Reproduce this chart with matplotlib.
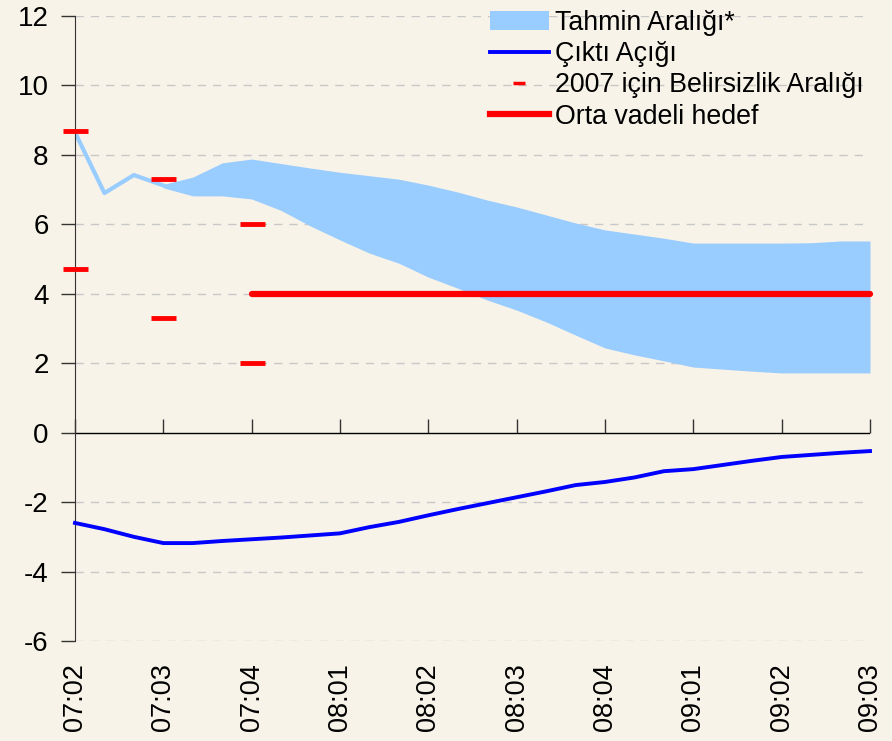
import numpy as np
import matplotlib
matplotlib.use("Agg")
import matplotlib.pyplot as plt
from matplotlib.patches import Patch
from matplotlib.lines import Line2D

plt.rcParams['font.family'] = ['Liberation Sans', 'DejaVu Sans']
plt.rcParams['axes.unicode_minus'] = False

# monthly positions, quarterly tick labels
quarter_labels = ["07:02", "07:03", "07:04", "08:01", "08:02",
                  "08:03", "08:04", "09:01", "09:02", "09:03"]

# realised inflation before forecast band (months 0..3)
hist_infl = [8.65, 6.9, 7.42, 7.12]

# forecast band, months 3..27
band_upper = [7.15, 7.36, 7.77, 7.88, 7.75, 7.62, 7.5, 7.4, 7.3, 7.13,
              6.93, 6.7, 6.5, 6.27, 6.04, 5.84, 5.72, 5.6, 5.46, 5.46,
              5.46, 5.46, 5.47, 5.52, 5.52]
band_lower = [7.05, 6.82, 6.82, 6.73, 6.4, 5.95, 5.55, 5.17, 4.88, 4.48,
              4.16, 3.82, 3.53, 3.19, 2.81, 2.44, 2.24, 2.07, 1.89, 1.83,
              1.77, 1.72, 1.72, 1.72, 1.72]

# output gap, months 0..27
output_gap = [-2.6, -2.78, -3.0, -3.18, -3.18, -3.12, -3.07, -3.02, -2.96, -2.9,
              -2.72, -2.57, -2.38, -2.2, -2.03, -1.86, -1.69, -1.51, -1.42, -1.29,
              -1.11, -1.05, -0.93, -0.81, -0.7, -0.64, -0.58, -0.53]

# 2007 uncertainty range (months 0, 3, 6)
unc_months = [0, 3, 6]
unc_upper = [8.7, 7.3, 6.0]
unc_lower = [4.7, 3.3, 2.0]

# medium term target
target_value = 4.0
target_start = 6

bg = '#F8F3E8'
fig = plt.figure(figsize=(8.92, 7.41), dpi=100, facecolor=bg)
ax = fig.add_axes([75/892, 100/741, 795/892, 625/741], facecolor=bg)

n = len(output_gap)
months = np.arange(n)
band_x = months[3:]

ax.fill_between(band_x, band_lower, band_upper, color='#99CCFF', lw=0, zorder=2)
ax.plot(months[:4], hist_infl, color='#99CCFF', lw=3, zorder=2)
ax.plot(months, output_gap, color='#0000FF', lw=2.8, zorder=3, clip_on=False)
ax.plot(months[target_start:], [target_value]*(n-target_start), color='#FF0000',
        lw=4.5, solid_capstyle='round', zorder=4, clip_on=False)
ax.plot(unc_months, unc_upper, ls='none', marker='_', ms=18, mew=3.5, color='#FF0000',
        zorder=5, clip_on=False)
ax.plot(unc_months, unc_lower, ls='none', marker='_', ms=18, mew=3.5, color='#FF0000',
        zorder=5, clip_on=False)

ax.set_xlim(0, n-1)
ax.set_ylim(-6, 12)
ax.set_yticks(np.arange(-6, 13, 2))
for y in np.arange(-6, 13, 2):
    if y != 0:
        ax.plot([0, n-1.1], [y, y], color='#C8C8C8', lw=1, ls=(0, (6, 5)), zorder=1)

# zero line acting as x axis
ax.axhline(0, color='black', lw=1, zorder=1.5)

for s in ['top', 'right', 'bottom']:
    ax.spines[s].set_visible(False)
ax.spines['left'].set_color('#333333')
ax.tick_params(axis='y', direction='out', length=10, width=1, pad=9, labelsize=20, color='#333333')

# labels at bottom, ticks on the zero line
ax.set_xticks(months[::3])
ax.set_xticklabels(quarter_labels, rotation=90, fontsize=19.5)
ax.tick_params(axis='x', length=0, pad=16)
sec = ax.secondary_xaxis(1/3)
sec.set_xticks(months[::3])
sec.tick_params(axis='x', direction='in', length=10, width=1, color='#333333',
                labelbottom=False, labeltop=False)
sec.spines['bottom'].set_visible(False)
sec.spines['top'].set_visible(False)
sec.set_xticklabels([])

handles = [Patch(facecolor='#99CCFF', edgecolor='none'),
           Line2D([], [], color='#0000FF', lw=2.8),
           Line2D([], [], ls='none', marker='_', ms=9, mew=2.5, color='#FF0000'),
           Line2D([], [], color='#FF0000', lw=4.5)]
labels = ["Tahmin Aralığı*", "Çıktı Açığı", "2007 için Belirsizlik Aralığı", "Orta vadeli hedef"]
ax.legend(handles, labels, loc='upper left', bbox_to_anchor=(415/795, 1.01), frameon=False,
          fontsize=19.3, handlelength=2.2, handletextpad=0.22, labelspacing=0.2,
          borderaxespad=0, borderpad=0)

fig.savefig("out.png", dpi=100, facecolor=bg)
